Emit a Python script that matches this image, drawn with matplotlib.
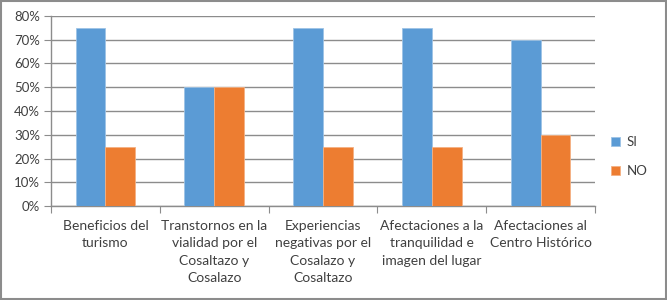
import numpy as np
import matplotlib.pyplot as plt
from matplotlib.ticker import PercentFormatter

categories = [
    "Beneficios del\nturismo",
    "Transtornos en la\nvialidad por el\nCosaltazo y\nCosalazo",
    "Experiencias\nnegativas por el\nCosalazo y\nCosaltazo",
    "Afectaciones a la\ntranquilidad e\nimagen del lugar",
    "Afectaciones al\nCentro Histórico",
]
si = [75, 50, 75, 75, 70]
no = [25, 50, 25, 25, 30]

plt.rcParams["font.family"] = ["Lato", "DejaVu Sans"]

fig = plt.figure(figsize=(6.67, 3.0), dpi=100)
ax = fig.add_axes([0.0765, 0.313, 0.8155, 0.634])

x = np.arange(len(categories))
w = 0.275
ax.bar(x - w / 2, si, w, color="#5B9BD5", edgecolor="#9DC3E6", linewidth=0.6, label="SI", zorder=3)
ax.bar(x + w / 2, no, w, color="#ED7D31", edgecolor="#F4B183", linewidth=0.6, label="NO", zorder=3)

ax.set_xlim(-0.5, len(categories) - 0.5)
ax.set_ylim(0, 80)
ax.set_yticks(range(0, 81, 10))
ax.yaxis.set_major_formatter(PercentFormatter(decimals=0))
ax.grid(axis="y", color="#8C8C8C", linewidth=1.0, zorder=0)

ax.set_xticks(np.arange(-0.5, len(categories), 1.0))
ax.set_xticklabels([])
ax.set_xticks(x, minor=True)
ax.set_xticklabels(categories, minor=True, fontsize=10, color="#404040", linespacing=1.55, va="top")
ax.tick_params(axis="x", which="minor", length=0, pad=10)
ax.tick_params(axis="x", which="major", length=5, color="#8C8C8C")
ax.tick_params(axis="y", length=5, color="#8C8C8C", labelsize=9.5, labelcolor="#404040", pad=3)

for s in ["top", "right"]:
    ax.spines[s].set_visible(False)
for s in ["left", "bottom"]:
    ax.spines[s].set_color("#8C8C8C")
    ax.spines[s].set_linewidth(1.0)

leg = ax.legend(loc="center left", bbox_to_anchor=(1.02, 0.26), frameon=False,
                fontsize=9.5, handlelength=0.7, handleheight=0.7, handletextpad=0.5,
                labelspacing=1.3, borderaxespad=0)
for t in leg.get_texts():
    t.set_color("#404040")

fig.patches.append(plt.Rectangle((0.0015, 0.003), 0.997, 0.994, transform=fig.transFigure,
                                 fill=False, edgecolor="#8C8C8C", linewidth=1.5))

fig.savefig("out.png", dpi=100)
